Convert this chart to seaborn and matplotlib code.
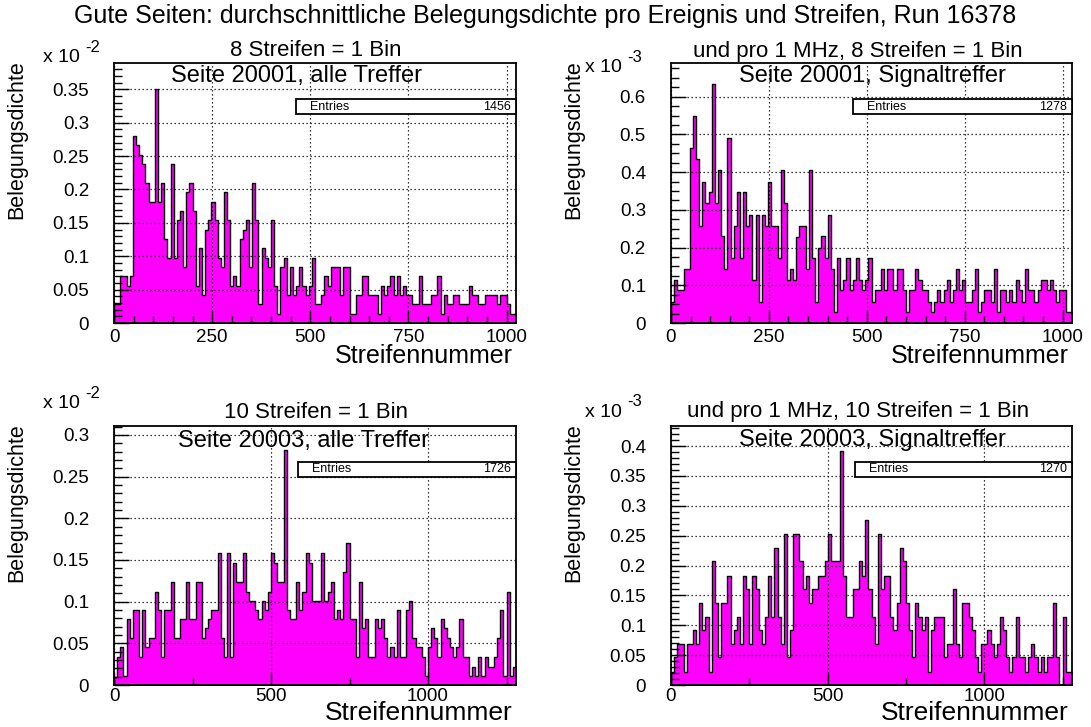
import numpy as np
import pandas as pd
import matplotlib
matplotlib.use("Agg")
import matplotlib.pyplot as plt
from matplotlib.patches import Rectangle
from matplotlib.ticker import MultipleLocator, FuncFormatter
import seaborn as sns

# ---- occupancy per bin (page 20001: 8 strips per bin, page 20003: 10 strips per bin) ----
occ_20001_all = [  # x 1e-2
    0.028, 0.028, 0.070, 0.070, 0.056, 0.070, 0.280, 0.266, 0.252, 0.238,
    0.210, 0.182, 0.182, 0.350, 0.182, 0.210, 0.126, 0.098, 0.238, 0.098,
    0.154, 0.168, 0.084, 0.196, 0.210, 0.168, 0.056, 0.112, 0.042, 0.140,
    0.154, 0.182, 0.154, 0.098, 0.084, 0.196, 0.154, 0.056, 0.070, 0.056,
    0.126, 0.140, 0.154, 0.084, 0.210, 0.154, 0.028, 0.112, 0.098, 0.084,
    0.154, 0.056, 0.014, 0.084, 0.098, 0.042, 0.084, 0.042, 0.056, 0.084,
    0.056, 0.042, 0.056, 0.098, 0.028, 0.028, 0.042, 0.070, 0.056, 0.084,
    0.084, 0.084, 0.042, 0.084, 0.084, 0.014, 0.014, 0.042, 0.042, 0.070,
    0.070, 0.042, 0.042, 0.042, 0.014, 0.056, 0.042, 0.056, 0.070, 0.042,
    0.070, 0.042, 0.056, 0.042, 0.042, 0.028, 0.028, 0.070, 0.028, 0.028,
    0.028, 0.042, 0.042, 0.070, 0.014, 0.042, 0.028, 0.028, 0.042, 0.042,
    0.028, 0.028, 0.028, 0.056, 0.042, 0.042, 0.028, 0.028, 0.042, 0.042,
    0.042, 0.042, 0.028, 0.042, 0.042, 0.028, 0.014, 0.014,
]
occ_20001_sig = [  # x 1e-3
    0.056, 0.115, 0.087, 0.087, 0.144, 0.144, 0.463, 0.550, 0.434, 0.257,
    0.374, 0.319, 0.348, 0.635, 0.319, 0.405, 0.231, 0.144, 0.491, 0.173,
    0.257, 0.348, 0.173, 0.348, 0.257, 0.287, 0.115, 0.287, 0.056, 0.287,
    0.257, 0.374, 0.257, 0.257, 0.173, 0.405, 0.319, 0.115, 0.144, 0.115,
    0.228, 0.257, 0.257, 0.144, 0.405, 0.173, 0.056, 0.200, 0.231, 0.173,
    0.287, 0.144, 0.030, 0.173, 0.087, 0.115, 0.173, 0.087, 0.115, 0.173,
    0.115, 0.087, 0.115, 0.173, 0.056, 0.087, 0.087, 0.144, 0.087, 0.144,
    0.144, 0.087, 0.144, 0.144, 0.087, 0.030, 0.087, 0.087, 0.144, 0.115,
    0.087, 0.087, 0.056, 0.030, 0.056, 0.087, 0.056, 0.087, 0.115, 0.056,
    0.087, 0.144, 0.087, 0.115, 0.056, 0.056, 0.087, 0.144, 0.030, 0.056,
    0.087, 0.087, 0.056, 0.144, 0.030, 0.087, 0.087, 0.056, 0.087, 0.056,
    0.115, 0.087, 0.056, 0.144, 0.087, 0.087, 0.056, 0.087, 0.115, 0.115,
    0.087, 0.115, 0.087, 0.056, 0.087, 0.087, 0.030, 0.030,
]
occ_20003_all = [  # x 1e-2
    0.010, 0.033, 0.045, 0.011, 0.079, 0.056, 0.090, 0.090, 0.033, 0.090,
    0.045, 0.056, 0.056, 0.112, 0.090, 0.033, 0.090, 0.090, 0.124, 0.056,
    0.056, 0.079, 0.079, 0.124, 0.079, 0.079, 0.124, 0.124, 0.056, 0.068,
    0.079, 0.090, 0.090, 0.158, 0.056, 0.033, 0.158, 0.033, 0.146, 0.124,
    0.124, 0.158, 0.112, 0.101, 0.101, 0.090, 0.079, 0.101, 0.090, 0.112,
    0.158, 0.146, 0.124, 0.124, 0.282, 0.090, 0.079, 0.079, 0.124, 0.090,
    0.112, 0.158, 0.146, 0.101, 0.101, 0.101, 0.158, 0.101, 0.112, 0.124,
    0.079, 0.090, 0.079, 0.136, 0.170, 0.079, 0.079, 0.033, 0.124, 0.068,
    0.079, 0.033, 0.033, 0.079, 0.068, 0.079, 0.056, 0.033, 0.045, 0.033,
    0.090, 0.033, 0.033, 0.090, 0.101, 0.056, 0.045, 0.045, 0.033, 0.011,
    0.045, 0.068, 0.056, 0.033, 0.079, 0.068, 0.056, 0.045, 0.033, 0.045,
    0.079, 0.033, 0.033, 0.011, 0.022, 0.011, 0.033, 0.011, 0.033, 0.022,
    0.022, 0.033, 0.056, 0.090, 0.011, 0.112, 0.011, 0.022,
]
occ_20003_sig = [  # x 1e-3
    0.022, 0.047, 0.068, 0.068, 0.022, 0.068, 0.068, 0.092, 0.068, 0.137,
    0.092, 0.114, 0.022, 0.207, 0.137, 0.047, 0.137, 0.137, 0.183, 0.068,
    0.092, 0.114, 0.068, 0.183, 0.161, 0.068, 0.183, 0.161, 0.092, 0.068,
    0.114, 0.183, 0.114, 0.230, 0.114, 0.068, 0.253, 0.047, 0.092, 0.253,
    0.253, 0.207, 0.161, 0.183, 0.137, 0.161, 0.161, 0.183, 0.183, 0.207,
    0.253, 0.207, 0.207, 0.207, 0.392, 0.183, 0.114, 0.114, 0.161, 0.161,
    0.207, 0.183, 0.276, 0.161, 0.114, 0.068, 0.253, 0.161, 0.183, 0.183,
    0.114, 0.092, 0.137, 0.230, 0.207, 0.137, 0.092, 0.047, 0.137, 0.114,
    0.092, 0.114, 0.022, 0.092, 0.114, 0.114, 0.114, 0.047, 0.068, 0.068,
    0.161, 0.068, 0.047, 0.137, 0.137, 0.114, 0.092, 0.047, 0.022, 0.068,
    0.068, 0.092, 0.068, 0.047, 0.068, 0.114, 0.092, 0.047, 0.022, 0.047,
    0.114, 0.047, 0.047, 0.022, 0.047, 0.068, 0.047, 0.022, 0.047, 0.022,
    0.047, 0.047, 0.137, 0.047, 0.000, 0.114, 0.022, 0.022,
]

panel_titles = ["8 Streifen = 1 Bin", "und pro 1 MHz, 8 Streifen = 1 Bin",
                "10 Streifen = 1 Bin", "und pro 1 MHz, 10 Streifen = 1 Bin"]
panel_labels = ["Seite 20001, alle Treffer", "Seite 20001, Signaltreffer",
                "Seite 20003, alle Treffer", "Seite 20003, Signaltreffer"]
entries = [1456, 1278, 1726, 1270]
exponents = ["-2", "-3", "-2", "-3"]
strips_per_bin = [8, 8, 10, 10]
suptitle = "Gute Seiten: durchschnittliche Belegungsdichte pro Ereignis und Streifen, Run 16378"

W, H = 1091, 727
sns.set_theme(style="white")
plt.rcParams["font.family"] = ["Liberation Sans", "DejaVu Sans"]
plt.rcParams["text.color"] = "black"
plt.rcParams["xtick.color"] = "black"
plt.rcParams["ytick.color"] = "black"
plt.rcParams["xtick.labelcolor"] = "black"
plt.rcParams["ytick.labelcolor"] = "black"

fig = plt.figure(figsize=(W / 100, H / 100), dpi=100)
fig.patch.set_facecolor("white")


def fx(px):
    return px / W


def fy(py):
    return 1 - py / H


# pixel boxes of the four frames: left, right, top, bottom
frames = [(114, 516, 63, 323), (671, 1072, 63, 323),
          (114, 516, 426, 685), (671, 1072, 426, 685)]
ymax = [0.3895, 0.6895, 0.3106, 0.4335]
ymajor = [0.05, 0.1, 0.05, 0.05]
yminor = [0.01, 0.025, 0.01, 0.01]
xmajor = [250, 250, 500, 500]
xminor = [50, 50, 250, 250]
xpad = [4, 4, 2, 2]
box_left = [296, 853, 298, 855]
box_rows = [(99, 114), (99, 114), (462, 477), (462, 477)]
title_pos = [(316, 51), (858, 51), (316, 412), (858, 411)]
label_pos = [(297, 76), (872, 76), (304, 441), (872, 440)]
expo_pos = [(43, 57), (585, 67), (43, 404), (585, 412)]
# font size and baseline of the x-axis title
xlabel_style = [(18, 363), (18, 363), (19, 720), (19, 720)]
data = [occ_20001_all, occ_20001_sig, occ_20003_all, occ_20003_sig]

grid_kw = dict(color="black", linestyle=(0, (1, 2.2)), linewidth=0.9)

for i in range(4):
    l, r, t, b = frames[i]
    ax = fig.add_axes([fx(l), fy(b), fx(r) - fx(l), fy(t) - fy(b)])
    vals = np.asarray(data[i], dtype=float)
    n = len(vals)
    width = strips_per_bin[i]
    edges = [k * width for k in range(n + 1)]
    df = pd.DataFrame({"strip": np.arange(n) * width + width / 2, "occ": vals})
    sns.histplot(data=df, x="strip", weights="occ", bins=edges, element="step",
                 fill=True, color="#ff00ff", alpha=1.0, edgecolor="black",
                 linewidth=1.0, ax=ax, legend=False, zorder=2)
    ax.set_xlim(0, edges[-1])
    ax.set_ylim(0, ymax[i])
    ax.set_xlabel("")
    ax.set_ylabel("")
    ax.set_facecolor("white")

    ax.xaxis.set_major_locator(MultipleLocator(xmajor[i]))
    ax.xaxis.set_minor_locator(MultipleLocator(xminor[i]))
    ax.yaxis.set_major_locator(MultipleLocator(ymajor[i]))
    ax.yaxis.set_minor_locator(MultipleLocator(yminor[i]))
    ax.tick_params(axis="both", which="both", direction="in", top=False, right=False,
                   color="black", width=1.0, labelsize=13.5)
    ax.tick_params(axis="y", which="major", length=11, left=True, pad=18)
    ax.tick_params(axis="y", which="minor", length=6, left=True)
    ax.tick_params(axis="x", which="major", length=9, bottom=True, pad=xpad[i])
    ax.tick_params(axis="x", which="minor", length=5, bottom=True)
    ax.yaxis.set_major_formatter(FuncFormatter(
        lambda v, p: "0" if abs(v) < 1e-9 else f"{v:g}"))
    ax.xaxis.set_major_formatter(FuncFormatter(lambda v, p: f"{v:g}"))

    ax.grid(True, which="major", axis="both", **grid_kw)
    ax.set_axisbelow(False)
    for gl in ax.get_xgridlines() + ax.get_ygridlines():
        gl.set_zorder(3)
    for s in ax.spines.values():
        s.set_visible(True)
        s.set_color("black")
        s.set_linewidth(1.3)
        s.set_zorder(5)

    # statistics box
    y1, y2 = box_rows[i]
    bx0 = (box_left[i] - l) / (r - l)
    by0 = (b - y2) / (b - t)
    by1 = (b - y1) / (b - t)
    ax.add_patch(Rectangle((bx0, by0), 1 - bx0, by1 - by0, transform=ax.transAxes,
                           facecolor="white", edgecolor="black", linewidth=1.3,
                           zorder=6, clip_on=False))
    ax.text(bx0 + 0.035, (by0 + by1) / 2, "Entries", transform=ax.transAxes,
            fontsize=9, ha="left", va="center", zorder=7)
    ax.text(0.988, (by0 + by1) / 2, str(entries[i]), transform=ax.transAxes,
            fontsize=9, ha="right", va="center", zorder=7)

    # page label inside the frame
    lx, ly = label_pos[i]
    fig.text(fx(lx), fy(ly), panel_labels[i], fontsize=17, ha="center", va="center",
             zorder=7)

    tx, ty = title_pos[i]
    fig.text(fx(tx), fy(ty), panel_titles[i], fontsize=16, ha="center", va="center")

    # axis titles
    xs, xy = xlabel_style[i]
    fig.text(fx(r - 3), fy(xy), "Streifennummer", fontsize=xs, ha="right",
             va="baseline")
    fig.text(fx(l - 97), fy(t - 3), "Belegungsdichte", fontsize=15.5, rotation=90,
             ha="center", va="top")

    # exponent of the y axis
    ex, ey = expo_pos[i]
    fig.text(fx(ex), fy(ey), "x 10", fontsize=14, ha="left", va="center")
    fig.text(fx(ex + 42), fy(ey - 10), exponents[i], fontsize=12, ha="left",
             va="center")

fig.text(fx(545), fy(16), suptitle, fontsize=18, ha="center", va="center")

fig.savefig("out.png", dpi=100, facecolor="white")
